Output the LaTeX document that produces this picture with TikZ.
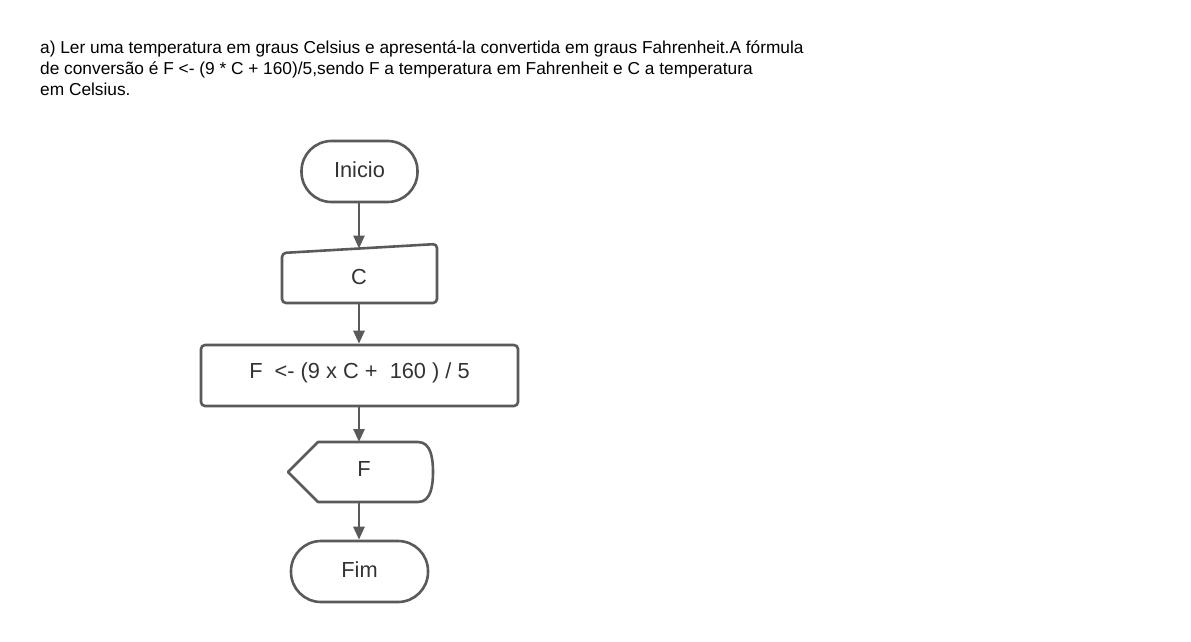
\documentclass[tikz,border=0pt]{standalone}
\usepackage{fontspec}
\setmainfont{Liberation Sans}
\usetikzlibrary{arrows.meta}
\definecolor{ln}{HTML}{5A5A5A}
\definecolor{tx}{HTML}{333333}
\tikzset{
  shp/.style={draw=ln, line width=2.6pt, line join=round},
  term/.style={shp, rounded corners=30pt, minimum height=61pt, inner sep=0pt},
  proc/.style={shp, rounded corners=4pt, minimum height=61pt, minimum width=317pt, inner sep=0pt},
  lbl/.style={text=tx, font=\fontsize{21.8}{24}\selectfont, inner sep=0pt},
  ttl/.style={anchor=base west, inner sep=0pt, text=black, font=\fontsize{17.3}{21.5}\selectfont},
  flow/.style={draw=ln, line width=2.6pt, -{Triangle[length=13pt,width=11pt]}},
}
\begin{document}
\begin{tikzpicture}[x=1pt,y=-1pt]
\useasboundingbox[fill=white] (0,0) rectangle (1191,642);
\node[ttl] (t1) at (40,53.5) {a) Ler uma temperatura em graus Celsius e apresentá-la convertida em graus Fahrenheit.A fórmula};
\node[ttl] (t2) at (40,74.5) {de conversão é F <- (9 * C + 160)/5,sendo F a temperatura em Fahrenheit e C a temperatura};
\node[ttl] (t3) at (40,95.5) {em Celsius.};
% Inicio
\node[term, minimum width=116pt] (ini) at (359.5,171.5) {};
\node[lbl] at (359.5,169.5) {Inicio};
% manual input C
\draw[shp, rounded corners=4pt] (282,303) -- (282,253) -- (437,244) -- (437,303) -- cycle;
\coordinate (cTop) at (359,248.5);
\coordinate (cBot) at (359,303);
\node[lbl] (c) at (359,277) {C};
% process
\node[proc] (proc) at (359.5,375.5) {};
\node[lbl] at (359.5,372.5) {F\ \ <- (9 x C +\ \ 160 ) / 5};
% display F
\draw[shp] (288,472) -- (318,442) -- (418,442) to[out=0,in=90] (433,472)
  to[out=-90,in=0] (418,502) -- (318,502) -- cycle;
\coordinate (dTop) at (359,442);
\coordinate (dBot) at (359,502);
\node[lbl] (f) at (364,469) {F};
% Fim
\node[term, minimum width=137pt] (fim) at (359.5,571.5) {};
\node[lbl] at (359.5,570) {Fim};
% connectors
\draw[flow] (ini.south -| cTop) -- (cTop);
\draw[flow] (cBot) -- (proc.north -| cBot);
\draw[flow] (proc.south -| dTop) -- (dTop);
\draw[flow] (dBot) -- (fim.north -| dBot);
\end{tikzpicture}
\end{document}
